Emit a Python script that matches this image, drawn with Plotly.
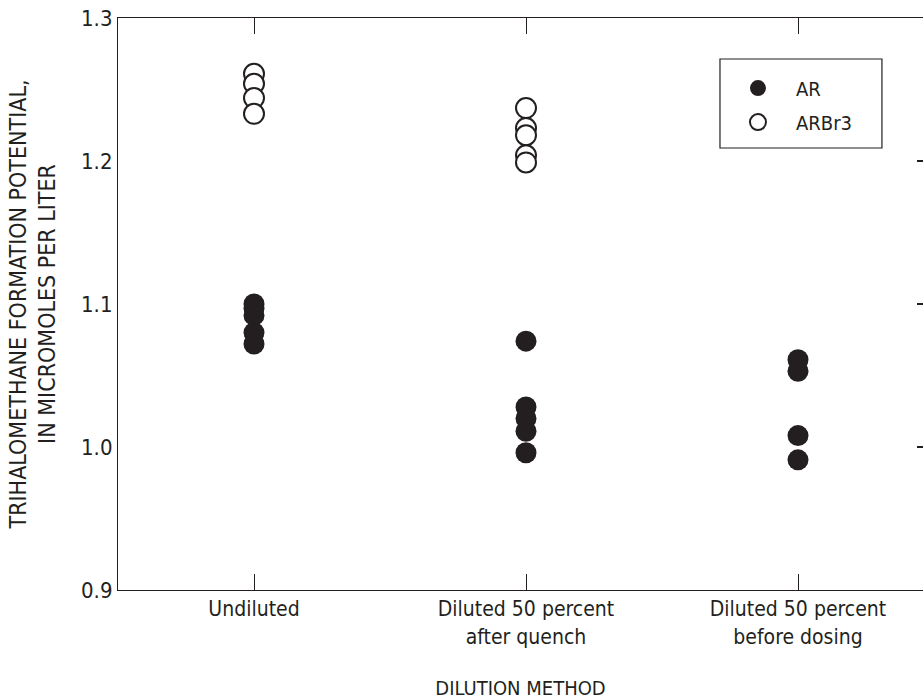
import plotly.graph_objects as go

categories = ["Undiluted", "Diluted 50 percent<br>after quench", "Diluted 50 percent<br>before dosing"]
cat_pos = [1, 2, 3]

ar_values = [
    [1.100, 1.097, 1.092, 1.080, 1.072],
    [1.074, 1.028, 1.020, 1.011, 0.996],
    [1.061, 1.053, 1.008, 0.991],
]
arbr3_values = [
    [1.261, 1.254, 1.244, 1.233],
    [1.237, 1.223, 1.218, 1.204, 1.199],
    [],
]

y_ticks = [0.9, 1.0, 1.1, 1.2, 1.3]
y_tick_text = ["0.9", "1.0", "1.1", "1.2", "1.3"]

INK = "#231f20"
FONT = "DejaVu Sans Condensed, Liberation Sans Narrow, sans-serif"

def flatten(groups):
    xs, ys = [], []
    for pos, vals in zip(cat_pos, groups):
        for v in vals:
            xs.append(pos)
            ys.append(v)
    return xs, ys

ar_x, ar_y = flatten(ar_values)
br_x, br_y = flatten(arbr3_values)

fig = go.Figure()
fig.add_trace(go.Scatter(
    x=ar_x, y=ar_y, mode="markers", name="AR", legendgroup="ar",
    marker=dict(size=21, color=INK, line=dict(width=0)),
))
fig.add_trace(go.Scatter(
    x=br_x, y=br_y, mode="markers", name="ARBr3", legendgroup="arbr3",
    marker=dict(size=20, color="white", line=dict(width=2, color=INK)),
))
# carrier for the right-hand tick axis
fig.add_trace(go.Scatter(x=[None], y=[None], yaxis="y2", showlegend=False, hoverinfo="skip"))

# legend frame (paper coordinates)
fig.add_shape(type="rect", xref="paper", yref="paper",
              x0=0.7478, x1=0.949, y0=0.7727, y1=0.9283,
              line=dict(color=INK, width=1.2), fillcolor="white", layer="below")

fig.update_layout(
    width=923, height=700,
    margin=dict(l=118, r=0, t=18, b=110),
    paper_bgcolor="white", plot_bgcolor="white",
    font=dict(family=FONT, size=21, color=INK),
    showlegend=True,
    legend=dict(
        x=0.7478, y=0.9115, xanchor="left", yanchor="top",
        borderwidth=0, bgcolor="rgba(0,0,0,0)",
        font=dict(size=20, color=INK),
        itemsizing="trace", itemwidth=66,
        tracegroupgap=5,
    ),
    xaxis=dict(
        range=[0.5, 0.5 + 805 / 272],
        tickmode="array", tickvals=cat_pos, ticktext=categories,
        showgrid=False, zeroline=False,
        showline=True, linecolor=INK, linewidth=1.2, mirror="ticks",
        ticks="inside", ticklen=16, tickcolor=INK, tickwidth=1.2,
        tickfont=dict(size=21),
        title=dict(text="DILUTION METHOD", font=dict(size=20), standoff=36),
    ),
    yaxis=dict(
        range=[0.9, 1.3],
        tickmode="array", tickvals=y_ticks, ticktext=y_tick_text,
        showgrid=False, zeroline=False,
        showline=True, linecolor=INK, linewidth=1.2,
        ticks="", ticklabelstandoff=0,
        tickfont=dict(size=22),
        title=dict(text="TRIHALOMETHANE FORMATION POTENTIAL,<br>IN MICROMOLES PER LITER",
                   font=dict(size=23), standoff=18),
    ),
    yaxis2=dict(
        range=[0.9, 1.3], overlaying="y", side="right",
        tickmode="array", tickvals=y_ticks,
        showticklabels=False, showgrid=False, zeroline=False, showline=False,
        ticks="inside", ticklen=6, tickcolor=INK, tickwidth=1.5,
    ),
)

fig.write_html("out.html")
